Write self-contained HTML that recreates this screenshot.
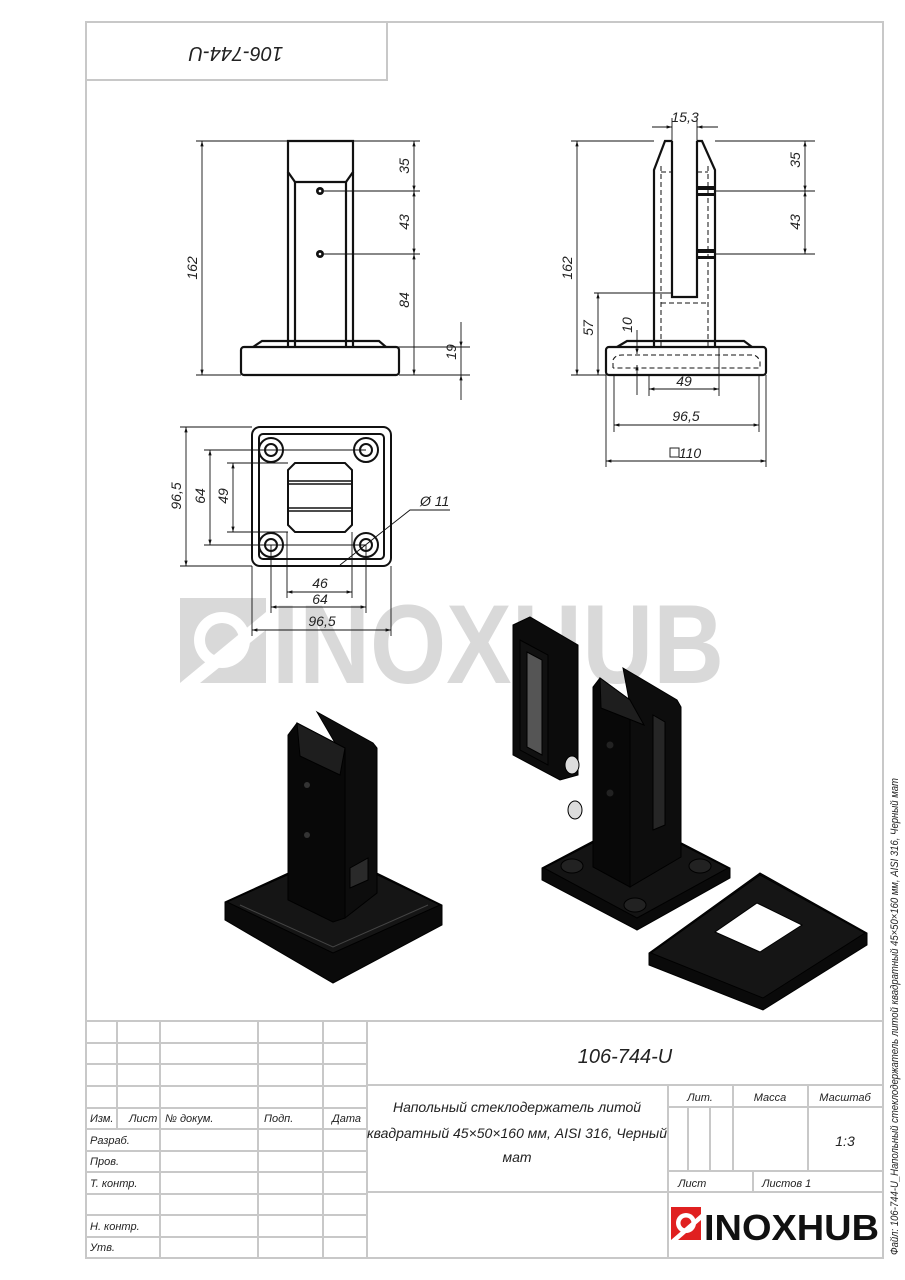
<!DOCTYPE html>
<html><head><meta charset="utf-8"><style>
html,body{margin:0;padding:0;background:#fff}
svg{display:block}
text{font-family:"Liberation Sans","DejaVu Sans",sans-serif;font-style:italic;fill:#222}
text.wm{fill:#d9d9d9;font-style:normal;font-weight:bold}
text.logo{fill:#111;font-style:normal;font-weight:bold}
</style></head><body>
<svg width="905" height="1280" viewBox="0 0 905 1280" xmlns="http://www.w3.org/2000/svg">
<defs>
<marker id="a" viewBox="0 0 10 10" refX="10" refY="5" markerWidth="9" markerHeight="6" orient="auto-start-reverse"><path d="M0,2 L10,5 L0,8 z" fill="#111"/></marker>
</defs>
<!-- watermark -->
<g fill="#d9d9d9">
<rect x="180" y="598" width="86" height="85"/>
<circle cx="222" cy="640" r="28" fill="#fff"/>
<circle cx="222" cy="640" r="17" fill="#d9d9d9"/>
<polygon points="180,683 266,612 266,630 200,683" fill="#fff"/>
<text class="wm" x="272" y="683" font-size="112" textLength="452" lengthAdjust="spacingAndGlyphs">INOXHUB</text>
</g>
<!-- frame -->
<g fill="none" stroke="#c8c8c8" stroke-width="2">
<rect x="86" y="22" width="797" height="1236"/>
<rect x="86" y="22" width="301" height="58"/>
</g>
<text x="236" y="61" font-size="20" text-anchor="middle" transform="rotate(180 236 54)">106-744-U</text>

<!-- FRONT VIEW -->
<g fill="none" stroke="#111" stroke-width="2.2">
<path d="M288,141 H353 V172 L346,182 H295 L288,172 Z"/>
<path d="M288,172 V347 M353,172 V347 M295,182 V347 M346,182 V347"/>
<rect x="241" y="347" width="158" height="28" rx="3"/>
<path d="M253,347 L262,341 H379 L386,347"/>
</g>
<circle cx="320" cy="191" r="4" fill="#111"/><circle cx="320" cy="191" r="1.3" fill="#fff"/>
<circle cx="320" cy="254" r="4" fill="#111"/><circle cx="320" cy="254" r="1.3" fill="#fff"/>
<g stroke="#111" stroke-width="0.9" fill="none">
<path d="M196,141 H288 M196,375 H241 M353,141 H420 M324,191 H420 M324,254 H420 M399,375 H470 M386,347 H470"/>
<line x1="202" y1="141" x2="202" y2="375" marker-start="url(#a)" marker-end="url(#a)"/>
<line x1="414" y1="141" x2="414" y2="191" marker-start="url(#a)" marker-end="url(#a)"/>
<line x1="414" y1="191" x2="414" y2="254" marker-start="url(#a)" marker-end="url(#a)"/>
<line x1="414" y1="254" x2="414" y2="375" marker-start="url(#a)" marker-end="url(#a)"/>
<line x1="461" y1="322" x2="461" y2="347" marker-end="url(#a)"/>
<line x1="461" y1="400" x2="461" y2="375" marker-end="url(#a)"/>
<line x1="461" y1="347" x2="461" y2="375"/>
</g>
<g font-size="14">
<text transform="translate(197,268) rotate(-90)" text-anchor="middle">162</text>
<text transform="translate(409,166) rotate(-90)" text-anchor="middle">35</text>
<text transform="translate(409,222) rotate(-90)" text-anchor="middle">43</text>
<text transform="translate(409,300) rotate(-90)" text-anchor="middle">84</text>
<text transform="translate(456,352) rotate(-90)" text-anchor="middle">19</text>
</g>

<!-- SIDE VIEW -->
<g fill="none" stroke="#111" stroke-width="2.2">
<path d="M654,347 V170 L665,141 H672 M715,347 V170 L702,141 H697"/>
<path d="M672,141 V297 H697 V141"/>
<rect x="606" y="347" width="160" height="28" rx="3"/>
<path d="M617,347 L627,341 H744 L752,347"/>
</g>
<g fill="none" stroke="#111" stroke-width="1" stroke-dasharray="5,3">
<path d="M661,347 V165 M708,347 V165 M661,172 H672 M697,172 H708 M661,303 H708 M613,368 V360 Q615,355 622,355 H752 Q758,355 760,362 V368 H613"/>
</g>
<g fill="#111"><rect x="697" y="186" width="18" height="4"/><rect x="697" y="193" width="18" height="3"/><rect x="697" y="249" width="18" height="4"/><rect x="697" y="256" width="18" height="3"/></g>
<g stroke="#111" stroke-width="0.9" fill="none">
<path d="M672,141 V118 M697,141 V118 M571,141 H654 M715,141 H815 M715,191 H815 M715,254 H815 M571,375 H606 M594,293 H672 M649,375 V396 M719,347 V396 M614,375 V432 M759,375 V432 M606,375 V467 M766,375 V467"/>
<line x1="652" y1="127" x2="672" y2="127" marker-end="url(#a)"/>
<line x1="718" y1="127" x2="697" y2="127" marker-end="url(#a)"/>
<line x1="577" y1="141" x2="577" y2="375" marker-start="url(#a)" marker-end="url(#a)"/>
<line x1="598" y1="293" x2="598" y2="375" marker-start="url(#a)" marker-end="url(#a)"/>
<line x1="805" y1="141" x2="805" y2="191" marker-start="url(#a)" marker-end="url(#a)"/>
<line x1="805" y1="191" x2="805" y2="254" marker-start="url(#a)" marker-end="url(#a)"/>
<line x1="637" y1="330" x2="637" y2="354" marker-end="url(#a)"/>
<line x1="637" y1="395" x2="637" y2="365" marker-end="url(#a)"/>
<line x1="649" y1="389" x2="719" y2="389" marker-start="url(#a)" marker-end="url(#a)"/>
<line x1="614" y1="425" x2="759" y2="425" marker-start="url(#a)" marker-end="url(#a)"/>
<line x1="606" y1="461" x2="766" y2="461" marker-start="url(#a)" marker-end="url(#a)"/>
</g>
<g font-size="14">
<text x="685" y="122" text-anchor="middle">15,3</text>
<text transform="translate(572,268) rotate(-90)" text-anchor="middle">162</text>
<text transform="translate(593,328) rotate(-90)" text-anchor="middle">57</text>
<text transform="translate(632,325) rotate(-90)" text-anchor="middle">10</text>
<text transform="translate(800,160) rotate(-90)" text-anchor="middle">35</text>
<text transform="translate(800,222) rotate(-90)" text-anchor="middle">43</text>
<text x="684" y="386" text-anchor="middle">49</text>
<text x="686" y="421" text-anchor="middle">96,5</text>
<text x="690" y="458" text-anchor="middle">110</text>
</g>
<rect x="670" y="448" width="9" height="9" fill="none" stroke="#222" stroke-width="1"/>

<!-- PLAN VIEW -->
<g fill="none" stroke="#111" stroke-width="2">
<rect x="252" y="427" width="139" height="139" rx="8"/>
<rect x="259" y="434" width="125" height="125" rx="4"/>
<circle cx="271" cy="450" r="12"/><circle cx="271" cy="450" r="6"/>
<circle cx="366" cy="450" r="12"/><circle cx="366" cy="450" r="6"/>
<circle cx="271" cy="545" r="12"/><circle cx="271" cy="545" r="6"/>
<circle cx="366" cy="545" r="12"/><circle cx="366" cy="545" r="6"/>
<path d="M295,463 H345 L352,470 V525 L345,532 H295 L288,525 V470 Z"/>
<path d="M288,481 H352 M288,484 H352 M288,508 H352 M288,511 H352" stroke-width="1.5"/>
</g>
<g stroke="#111" stroke-width="0.9" fill="none">
<path d="M180,427 H252 M204,450 H366 M227,463 H288 M227,532 H288 M204,545 H366 M180,566 H252 M287,532 V598 M352,532 V598 M271,545 V613 M366,545 V613 M252,566 V636 M391,566 V636 M340,565 L410,510 H450"/>
<line x1="186" y1="427" x2="186" y2="566" marker-start="url(#a)" marker-end="url(#a)"/>
<line x1="210" y1="450" x2="210" y2="545" marker-start="url(#a)" marker-end="url(#a)"/>
<line x1="233" y1="463" x2="233" y2="532" marker-start="url(#a)" marker-end="url(#a)"/>
<line x1="287" y1="592" x2="352" y2="592" marker-start="url(#a)" marker-end="url(#a)"/>
<line x1="271" y1="607" x2="366" y2="607" marker-start="url(#a)" marker-end="url(#a)"/>
<line x1="252" y1="630" x2="391" y2="630" marker-start="url(#a)" marker-end="url(#a)"/>
</g>
<g font-size="14">
<text transform="translate(181,496) rotate(-90)" text-anchor="middle">96,5</text>
<text transform="translate(205,496) rotate(-90)" text-anchor="middle">64</text>
<text transform="translate(228,496) rotate(-90)" text-anchor="middle">49</text>
<text x="320" y="588" text-anchor="middle">46</text>
<text x="320" y="604" text-anchor="middle">64</text>
<text x="322" y="626" text-anchor="middle">96,5</text>
<text x="420" y="506">Ø 11</text>
</g>

<!-- 3D LEFT -->
<g stroke="#000" stroke-width="1">
<polygon points="225,902 334,852 442,905 442,925 333,983 225,920" fill="#0a0a0a"/>
<polygon points="227,902 334,854 440,905 333,953" fill="#151515"/>
<polyline points="240,905 333,947 428,905" fill="none" stroke="#444"/>
<polygon points="317,712 373,743 377,748 377,893 345,918 345,760" fill="#0d0d0d"/>
<polygon points="288,735 297,723 345,748 345,918 333,922 288,900" fill="#080808"/>
<polygon points="297,723 345,748 340,775 300,756" fill="#1e1e1e"/>
<polygon points="350,868 368,858 368,880 350,888" fill="#2a2a2a"/>
</g>
<circle cx="307" cy="785" r="3" fill="#333"/><circle cx="307" cy="835" r="3" fill="#333"/>

<!-- 3D RIGHT -->
<g stroke="#000" stroke-width="1">
<polygon points="542,868 635,819 730,868 730,878 637,930 542,880" fill="#0a0a0a"/>
<polygon points="544,868 635,821 728,868 637,918" fill="#141414"/>
<ellipse cx="572" cy="866" rx="11" ry="7" fill="#222"/>
<ellipse cx="700" cy="866" rx="11" ry="7" fill="#222"/>
<ellipse cx="635" cy="905" rx="11" ry="7" fill="#222"/>
<polygon points="623,668 677,700 681,707 681,857 630,887 630,705" fill="#0d0d0d"/>
<polygon points="593,687 600,678 630,700 630,887 593,867" fill="#080808"/>
<polygon points="600,678 630,700 644,725 601,708" fill="#1e1e1e"/>
<polygon points="653,715 665,722 665,825 653,830" fill="#262626"/>
<polygon points="649,953 760,873 867,933 867,945 763,1010 649,965" fill="#0a0a0a"/>
<polygon points="651,953 760,875 865,933 763,998" fill="#151515"/>
<polygon points="715,932 757,903 802,925 760,952" fill="#fff"/>
<polygon points="513,625 530,617 578,645 578,775 560,780 513,755" fill="#0c0c0c"/>
<polygon points="520,640 548,655 548,765 520,750" fill="#111"/>
<polygon points="527,652 542,660 542,755 527,747" fill="#555"/>
<ellipse cx="572" cy="765" rx="7" ry="9" fill="#ddd"/>
<ellipse cx="575" cy="810" rx="7" ry="9" fill="#ddd"/>
</g>
<circle cx="610" cy="745" r="3.5" fill="#222"/><circle cx="610" cy="793" r="3.5" fill="#222"/>

<!-- TITLE BLOCK -->
<g stroke="#c8c8c8" stroke-width="2" fill="none">
<line x1="86" y1="1021" x2="883" y2="1021"/>
<path d="M117,1021 V1129 M160,1021 V1258 M258,1021 V1258 M323,1021 V1258 M367,1021 V1258"/>
<path d="M86,1043 H367 M86,1064 H367 M86,1086 H367 M86,1108 H367 M86,1129 H367 M86,1151 H367 M86,1172 H367 M86,1194 H367 M86,1215 H367 M86,1237 H367"/>
<path d="M367,1085 H883 M367,1192 H883 M668,1085 V1258 M733,1085 V1171 M808,1085 V1171 M668,1107 H883 M668,1171 H883 M753,1171 V1192 M688,1107 V1171 M710,1107 V1171"/>
</g>
<g font-size="11">
<text x="90" y="1122">Изм.</text><text x="129" y="1122">Лист</text><text x="165" y="1122">№ докум.</text>
<text x="264" y="1122">Подп.</text><text x="332" y="1122">Дата</text>
<text x="90" y="1144">Разраб.</text><text x="90" y="1165">Пров.</text><text x="90" y="1187">Т. контр.</text>
<text x="90" y="1230">Н. контр.</text><text x="90" y="1251">Утв.</text>
<text x="700" y="1101" text-anchor="middle">Лит.</text><text x="770" y="1101" text-anchor="middle">Масса</text><text x="845" y="1101" text-anchor="middle">Масштаб</text>
<text x="678" y="1187">Лист</text><text x="762" y="1187">Листов 1</text>
</g>
<text x="845" y="1146" font-size="14" text-anchor="middle">1:3</text>
<text x="625" y="1063" font-size="20" text-anchor="middle">106-744-U</text>
<g font-size="14" text-anchor="middle">
<text x="517" y="1112">Напольный стеклодержатель литой</text>
<text x="517" y="1138">квадратный 45×50×160 мм, AISI 316, Черный</text>
<text x="517" y="1162">мат</text>
</g>
<rect x="671" y="1207" width="30" height="33" fill="#e02020"/>
<circle cx="686" cy="1223" r="10" fill="#fff"/><circle cx="686" cy="1223" r="5.5" fill="#e02020"/>
<polygon points="671,1240 701,1214 701,1220 678,1240" fill="#fff"/>
<text class="logo" x="704" y="1240" font-size="36" textLength="175" lengthAdjust="spacingAndGlyphs">INOXHUB</text>
<text transform="translate(898,1255) rotate(-90)" font-size="11" textLength="477" lengthAdjust="spacingAndGlyphs">Файл: 106-744-U_Напольный стеклодержатель литой квадратный 45×50×160 мм, AISI 316, Черный мат</text>
</svg>
</body></html>
